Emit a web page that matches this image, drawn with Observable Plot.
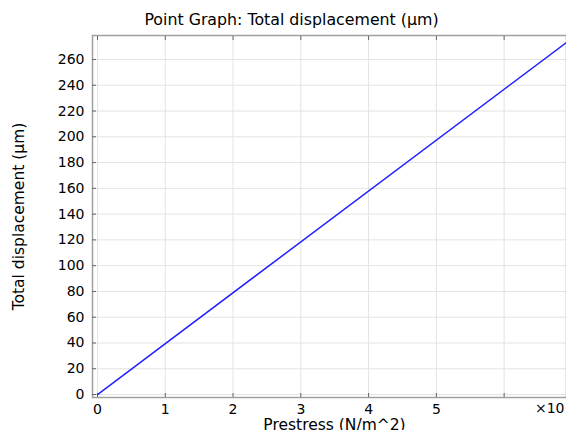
<!DOCTYPE html>
<html>
<head>
<meta charset="utf-8">
<script src="https://cdn.jsdelivr.net/npm/d3@7"></script>
<script src="https://cdn.jsdelivr.net/npm/@observablehq/plot@0.6"></script>
<style>
body { margin: 0; background: #fff; }
#chart { position: relative; width: 566px; height: 430px; }
.title { position: absolute; top: 10px; left: 0; width: 583px; text-align: center; font: 15.8px "DejaVu Sans", sans-serif; color: #000; white-space: nowrap; }
</style>
</head>
<body>
<div id="chart"><div class="title">Point Graph: Total displacement (µm)</div></div>
<script>
const prestress = [0, 6.92];          // ×10^6 N/m^2 (scaled)
const displacement = [0, 273.2];      // µm
const xTicks = [0, 1, 2, 3, 4, 5, 6];
const xTickLabels = ["0", "1", "2", "3", "4", "5", ""];
const yTicks = [0, 20, 40, 60, 80, 100, 120, 140, 160, 180, 200, 220, 240, 260];
const xDomain = [-0.074, 6.92];
const yDomain = [-2.3, 278.6];

const data = prestress.map((p, i) => ({x: p, y: displacement[i]}));
const frameColor = "#a0a0a0";

const plot = Plot.plot({
  width: 566,
  height: 430,
  marginLeft: 92,
  marginRight: 0,
  marginTop: 35,
  marginBottom: 33,
  style: {fontFamily: "DejaVu Sans, sans-serif", fontSize: "13px", color: "#000", background: "transparent"},
  x: {domain: xDomain, ticks: xTicks},
  y: {domain: yDomain, ticks: yTicks},
  marks: [
    Plot.gridX(xTicks, {stroke: "#e3e3e3", strokeOpacity: 1}),
    Plot.gridY(yTicks, {stroke: "#e3e3e3", strokeOpacity: 1}),
    Plot.frame({stroke: frameColor, strokeWidth: 1.5}),
    Plot.axisX(xTicks, {anchor: "bottom", tickSize: 0, tickPadding: 7, tickFormat: (d, i) => xTickLabels[i], label: null, fontSize: 14}),
    Plot.axisX(xTicks, {anchor: "bottom", tickSize: -4, tickFormat: () => "", label: null, stroke: "#666"}),
    Plot.axisX(xTicks, {anchor: "top", tickSize: -4, tickFormat: () => "", label: null, stroke: "#666"}),
    Plot.axisY(yTicks, {anchor: "left", tickSize: 0, tickPadding: 8, label: null, fontSize: 14}),
    Plot.axisY(yTicks, {anchor: "left", tickSize: -4, tickFormat: () => "", label: null, stroke: "#666"}),
    Plot.text(["×10"], {frameAnchor: "bottom-right", dx: -2, dy: 15, fontSize: 14, textAnchor: "end"}),
    Plot.text(["Prestress (N/m^2)"], {frameAnchor: "bottom", dx: 5, dy: 32, fontSize: 15.5, textAnchor: "middle"}),
    Plot.text(["Total displacement (µm)"], {frameAnchor: "left", dx: -73, rotate: -90, fontSize: 15.5, textAnchor: "middle"}),
    Plot.line(data, {x: "x", y: "y", stroke: "#2020ff", strokeWidth: 1.5})
  ]
});
document.getElementById("chart").appendChild(plot);
</script>
</body>
</html>
